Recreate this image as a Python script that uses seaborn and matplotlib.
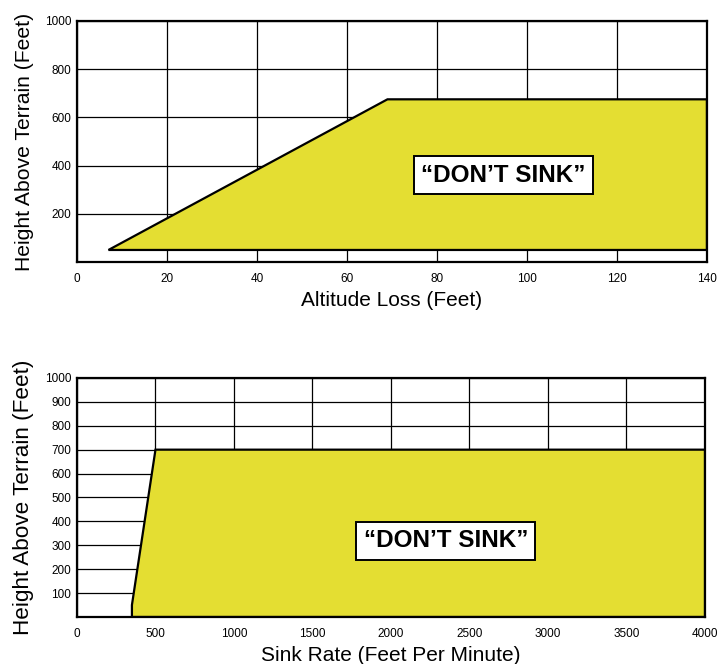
import numpy as np
import pandas as pd
import matplotlib
matplotlib.use("Agg")
import matplotlib.pyplot as plt
import seaborn as sns

# top chart: altitude loss envelope
loss_x = [7, 69, 140, 140]
loss_y = [50, 675, 675, 50]
loss_xticks = [0, 20, 40, 60, 80, 100, 120, 140]
loss_yticks = [200, 400, 600, 800, 1000]

# bottom chart: sink rate envelope
sink_x = [350, 350, 500, 4000, 4000]
sink_y = [0, 50, 700, 700, 0]
sink_xticks = [0, 500, 1000, 1500, 2000, 2500, 3000, 3500, 4000]
sink_yticks = [100, 200, 300, 400, 500, 600, 700, 800, 900, 1000]

label = "\u201cDON\u2019T SINK\u201d"
yellow = "#e4de32"

sns.set_theme(style="white")
plt.rcParams['font.family'] = ['Liberation Sans', 'DejaVu Sans']
plt.rcParams['text.color'] = 'black'
plt.rcParams['axes.labelcolor'] = 'black'
plt.rcParams['xtick.color'] = 'black'
plt.rcParams['ytick.color'] = 'black'

fig = plt.figure(figsize=(7.18, 6.64), dpi=100)
ax1 = fig.add_axes([0.1072, 0.6054, 0.8774, 0.363])
ax2 = fig.add_axes([0.1072, 0.0708, 0.8747, 0.360])


def setup(ax, xt, yt, xmax, xlabel, ysize):
    ax.set_xlim(0, xmax)
    ax.set_ylim(0, 1000)
    ax.set_xticks(xt)
    ax.set_yticks(yt)
    ax.set_xticklabels([str(v) for v in xt], fontsize=8.5)
    ax.set_yticklabels([str(v) for v in yt], fontsize=8.5)
    ax.grid(True, color="black", linewidth=0.9)
    ax.set_axisbelow(True)
    for s in ax.spines.values():
        s.set_color("black")
        s.set_linewidth(1.6)
    ax.tick_params(axis="x", direction="out", length=4, width=0.9, color="black", pad=4)
    ax.tick_params(axis="y", length=0, pad=4)
    ax.set_xlabel(xlabel, fontsize=15, labelpad=4)
    ax.set_ylabel("Height Above Terrain (Feet)", fontsize=ysize, labelpad=8)


setup(ax1, loss_xticks, loss_yticks, 140, "Altitude Loss (Feet)", 15.2)
ax1.fill(loss_x, loss_y, facecolor=yellow, edgecolor="black", linewidth=1.6, zorder=2)
ax1.text(94.7, 361, label, ha="center", va="center", fontsize=17.5, fontweight="bold",
         zorder=3, bbox=dict(boxstyle="square,pad=0.3", facecolor="white", edgecolor="black", linewidth=1.4))

setup(ax2, sink_xticks, sink_yticks, 4000, "Sink Rate (Feet Per Minute)", 16.2)
ax2.fill(sink_x, sink_y, facecolor=yellow, edgecolor="black", linewidth=1.6, zorder=2)
ax2.text(2350, 318, label, ha="center", va="center", fontsize=17.5, fontweight="bold",
         zorder=3, bbox=dict(boxstyle="square,pad=0.3", facecolor="white", edgecolor="black", linewidth=1.4))

fig.savefig("out.png", dpi=100)
